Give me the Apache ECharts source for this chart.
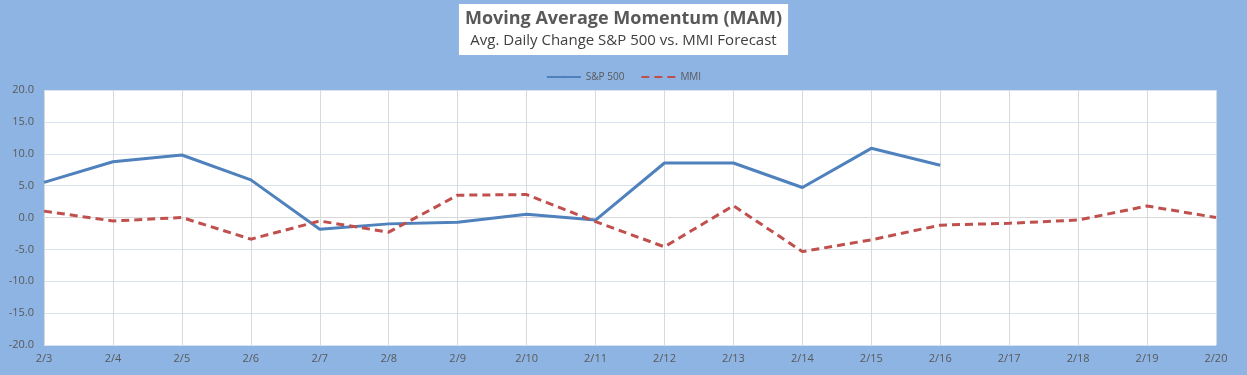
<!DOCTYPE html>
<html>
<head>
<meta charset="utf-8">
<script src="https://cdn.jsdelivr.net/npm/echarts@6/dist/echarts.min.js"></script>
<style>
    html, body { margin: 0; padding: 0; background: #8DB4E2; }
    #main { width: 1247px; height: 375px; }
</style>
</head>
<body>
<div id="main"></div>
<script>
    // 数据
    var categories = ['2/3','2/4','2/5','2/6','2/7','2/8','2/9','2/10','2/11','2/12','2/13','2/14','2/15','2/16','2/17','2/18','2/19','2/20'];
    var spData = [5.5, 8.75, 9.8, 5.9, -1.85, -1.0, -0.75, 0.5, -0.4, 8.55, 8.55, 4.7, 10.85, 8.2, null, null, null, null];
    var mmiData = [1.0, -0.55, 0.0, -3.4, -0.55, -2.3, 3.5, 3.6, -0.65, -4.6, 1.85, -5.35, -3.5, -1.2, -0.9, -0.4, 1.8, 0.0];
    var legendData = ['S&P 500', 'MMI'];

    var myChart = echarts.init(document.getElementById('main'));
    var option = {
        backgroundColor: '#8DB4E2',
        textStyle: { fontFamily: 'Open Sans' },
        title: {
            text: 'Moving Average Momentum (MAM)',
            subtext: 'Avg. Daily Change S&P 500 vs. MMI Forecast',
            left: 'center',
            top: 4,
            padding: [6, 6, 7, 6],
            itemGap: 5,
            backgroundColor: '#fff',
            textStyle: { color: '#595959', fontSize: 18, fontWeight: 'bold', fontFamily: 'Open Sans' },
            subtextStyle: { color: '#404040', fontSize: 15, fontFamily: 'Open Sans' }
        },
        legend: {
            data: legendData,
            top: 67,
            left: 'center',
            itemWidth: 34,
            itemHeight: 3,
            itemGap: 16,
            textStyle: { color: '#595959', fontSize: 10 }
        },
        grid: {
            left: 44,
            right: 31,
            top: 90,
            bottom: 30,
            show: true,
            backgroundColor: '#fff',
            borderWidth: 0
        },
        xAxis: {
            type: 'category',
            data: categories,
            boundaryGap: false,
            axisLine: { lineStyle: { color: '#D9D9D9' } },
            axisTick: { show: false },
            axisLabel: { color: '#595959', fontSize: 11, margin: 8 },
            splitLine: { show: true, lineStyle: { color: '#D9D9D9' } }
        },
        yAxis: {
            type: 'value',
            min: -20,
            max: 20,
            interval: 5,
            axisLine: { show: false },
            axisTick: { show: false },
            axisLabel: {
                color: '#595959',
                fontSize: 11,
                margin: 10,
                formatter: function (v) { return v.toFixed(1); }
            },
            splitLine: { lineStyle: { color: '#D9E3F0' } }
        },
        series: [
            {
                name: legendData[0],
                type: 'line',
                data: spData,
                symbol: 'none',
                connectNulls: false,
                color: '#4F81BD',
                lineStyle: { width: 3, color: '#4F81BD' }
            },
            {
                name: legendData[1],
                type: 'line',
                data: mmiData,
                symbol: 'none',
                color: '#C0504D',
                lineStyle: { width: 3, color: '#C0504D', type: [8, 5] }
            }
        ]
    };
    myChart.setOption(option);
</script>
</body>
</html>
